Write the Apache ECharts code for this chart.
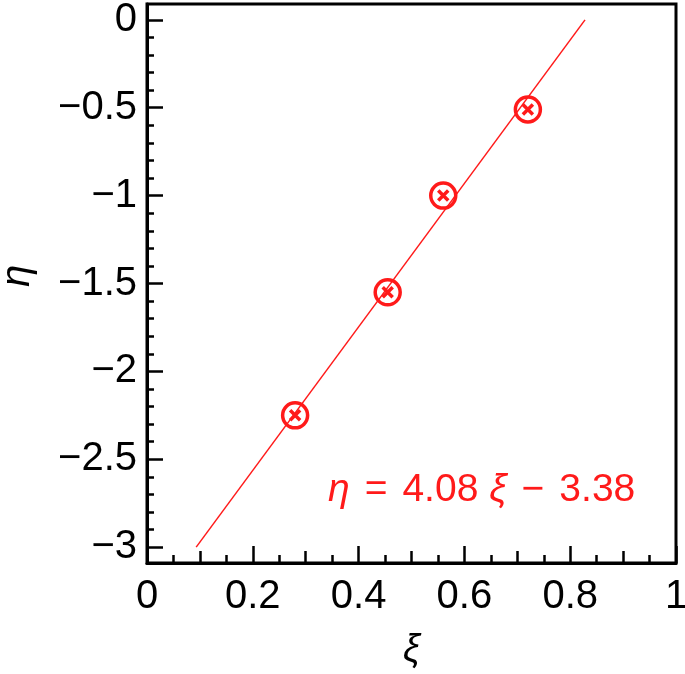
<!DOCTYPE html>
<html>
<head>
<meta charset="utf-8">
<script src="https://cdn.jsdelivr.net/npm/echarts@6/dist/echarts.min.js"></script>
<style>
  html, body { margin: 0; padding: 0; background: #fff; }
  #chart { width: 685px; height: 674px; }
</style>
</head>
<body>
<div id="chart"></div>
<script>
// measured points
const xiValues = [0.28, 0.455, 0.56, 0.72];
const etaValues = [-2.25, -1.55, -1.0, -0.51];

// fitted line eta = 4.08 xi - 3.38, drawn from eta = -3 to eta = 0
const fitXi = [0.093, 0.828];
const fitEta = [-3.0, 0.0];

// ticks
const xMajorTicks = [0, 0.2, 0.4, 0.6, 0.8, 1];
const xMidTicks = [0.1, 0.3, 0.5, 0.7, 0.9];
const xMinorTicks = [0.05, 0.15, 0.25, 0.35, 0.45, 0.55, 0.65, 0.75, 0.85, 0.95];
const yMajorTicks = [-3, -2.5, -2, -1.5, -1, -0.5, 0];
const yMinorTicks = [-2.9, -2.8, -2.7, -2.6, -2.4, -2.3, -2.2, -2.1, -1.9, -1.8, -1.7, -1.6,
  -1.4, -1.3, -1.2, -1.1, -0.9, -0.8, -0.7, -0.6, -0.4, -0.3, -0.2, -0.1];

const X_MIN = 0, X_MAX = 1;
const Y_MIN = -3.09, Y_MAX = 0.09;
const RED = '#ff1a1a';
const FONT = 'Liberation Sans';
const GRID_BOX = { left: 147, right: 9, top: 4, bottom: 111, outerBoundsMode: 'none' };

function minus(v) {
  return String(v).replace('-', '\u2212');
}

function tickLine(len, values) {
  return {
    show: true, inside: true, length: len, customValues: values,
    lineStyle: { color: '#000', width: 2.5 }
  };
}

function plainAxis(gridIndex, min, max, extra) {
  return Object.assign({
    type: 'value',
    gridIndex: gridIndex,
    min: min,
    max: max,
    axisLine: { show: false, onZero: false },
    axisTick: { show: false },
    axisLabel: { show: false },
    splitLine: { show: false }
  }, extra);
}

const chart = echarts.init(document.getElementById('chart'));

chart.setOption({
  backgroundColor: '#fff',
  animation: false,
  // three grids on the same rectangle, so each can carry its own tick length
  grid: [
    Object.assign({ show: true, borderColor: '#000', borderWidth: 3, backgroundColor: 'transparent' }, GRID_BOX),
    Object.assign({}, GRID_BOX),
    Object.assign({}, GRID_BOX)
  ],
  xAxis: [
    plainAxis(0, X_MIN, X_MAX, {
      position: 'bottom',
      name: 'ξ',
      nameLocation: 'middle',
      nameGap: 68,
      nameTextStyle: { fontFamily: FONT, fontSize: 38, fontStyle: 'italic', color: '#000' },
      axisLine: { show: true, onZero: false, lineStyle: { color: '#000', width: 3 } },
      axisTick: tickLine(17, xMajorTicks),
      axisLabel: {
        show: true, customValues: xMajorTicks, margin: 14,
        fontFamily: FONT, fontSize: 40, color: '#000',
        formatter: v => minus(v)
      }
    }),
    plainAxis(1, X_MIN, X_MAX, { position: 'bottom', axisTick: tickLine(12, xMidTicks) }),
    plainAxis(2, X_MIN, X_MAX, { position: 'bottom', axisTick: tickLine(8, xMinorTicks) })
  ],
  yAxis: [
    plainAxis(0, Y_MIN, Y_MAX, {
      position: 'left',
      axisLine: { show: true, onZero: false, lineStyle: { color: '#000', width: 3 } },
      axisTick: tickLine(16, yMajorTicks),
      axisLabel: {
        show: true, customValues: yMajorTicks, margin: 10,
        fontFamily: FONT, fontSize: 40, color: '#000',
        formatter: v => minus(v)
      }
    }),
    plainAxis(1, Y_MIN, Y_MAX, { position: 'left', axisTick: tickLine(7, yMinorTicks) }),
    plainAxis(2, Y_MIN, Y_MAX, { position: 'left' })
  ],
  graphic: [
    {
      type: 'text',
      x: 18,
      y: 276,
      rotation: Math.PI / 2,
      style: {
        text: 'η',
        fontFamily: FONT, fontSize: 40, fontStyle: 'italic', fill: '#000',
        align: 'center', verticalAlign: 'middle'
      }
    },
    {
      type: 'text',
      left: 328,
      top: 471,
      style: {
        text: '{i|η}{op|=}4.08 {i|ξ}{op|\u2212}3.38',
        fontFamily: FONT,
        fontSize: 39,
        fill: RED,
        rich: {
          i: { fontFamily: FONT, fontSize: 39, fontStyle: 'italic', fill: RED },
          op: { fontFamily: FONT, fontSize: 39, fill: RED, padding: [0, 15, 0, 15] }
        }
      }
    }
  ],
  series: [
    {
      type: 'line',
      data: fitXi.map((x, i) => [x, fitEta[i]]),
      showSymbol: false,
      lineStyle: { color: RED, width: 1.5 },
      z: 2
    },
    {
      type: 'scatter',
      data: xiValues.map((x, i) => [x, etaValues[i]]),
      symbol: 'circle',
      symbolSize: 25,
      itemStyle: { color: 'rgba(0,0,0,0)', borderColor: RED, borderWidth: 3.5, opacity: 1 },
      z: 3
    },
    {
      type: 'scatter',
      data: xiValues.map((x, i) => [x, etaValues[i]]),
      symbol: 'path://M0,0L10,10M10,0L0,10',
      symbolSize: 10,
      itemStyle: { color: 'rgba(0,0,0,0)', borderColor: RED, borderWidth: 3.5, opacity: 1 },
      z: 4
    }
  ]
});

window.addEventListener('resize', () => chart.resize());
</script>
</body>
</html>
